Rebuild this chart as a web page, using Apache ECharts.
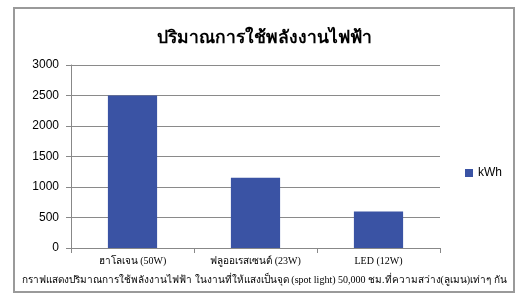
<!DOCTYPE html>
<html><head><meta charset="utf-8">
<script src="https://cdn.jsdelivr.net/npm/echarts@6/dist/echarts.min.js"></script>
<style>html,body{margin:0;padding:0;background:#fff}#c{width:529px;height:300px}</style>
</head><body><div id="c"></div>
<script>
const titleText = 'ปริมาณการใช้พลังงานไฟฟ้า';
const captionText = 'กราฟแสดงปริมาณการใช้พลังงานไฟฟ้า ในงานที่ให้แสงเป็นจุด (spot light) 50,000 ชม.ที่ความสว่าง(ลูเมน)เท่าๆ กัน';
const categories = ['ฮาโลเจน (50W)', 'ฟลูออเรสเซนต์ (23W)', 'LED (12W)'];
const seriesName = 'kWh';
const values = [2500, 1150, 600];
const yTicks = [0, 500, 1000, 1500, 2000, 2500, 3000];

const chart = echarts.init(document.getElementById('c'), null, {renderer: 'canvas'});
chart.setOption({
  animation: false,
  backgroundColor: '#fff',
  title: [
    {text: titleText, left: 'center', top: 24,
     textStyle: {fontFamily: 'serif', fontSize: 17.5, fontWeight: 'bold', color: '#000'}},
    {text: captionText, left: 'center', top: 270,
     textStyle: {fontFamily: 'serif', fontSize: 10, fontWeight: 'normal', color: '#000'}}
  ],
  legend: {
    data: [seriesName], left: 460, top: 162, orient: 'vertical',
    icon: 'rect', itemWidth: 8, itemHeight: 8, itemGap: 4,
    textStyle: {fontFamily: 'sans-serif', fontSize: 12, color: '#000'}
  },
  grid: {left: 71, right: 89, top: 65, bottom: 52, containLabel: false},
  xAxis: {
    type: 'category', data: categories,
    axisLine: {lineStyle: {color: '#888', width: 1}},
    axisTick: {show: true, length: 5, lineStyle: {color: '#888'}},
    axisLabel: {fontFamily: 'serif', fontSize: 10, color: '#000', margin: 8}
  },
  yAxis: {
    type: 'value', min: yTicks[0], max: yTicks[yTicks.length - 1], interval: 500,
    axisLine: {show: true, lineStyle: {color: '#888'}},
    axisTick: {show: true, length: 5, lineStyle: {color: '#888'}},
    splitLine: {lineStyle: {color: '#8a8a8a', width: 1}},
    axisLabel: {fontFamily: 'sans-serif', fontSize: 12, color: '#000', margin: 12,
                formatter: function (v) { return String(v); }}
  },
  series: [{
    name: seriesName, type: 'bar', data: values,
    barCategoryGap: '60%',
    itemStyle: {color: '#3a53a4'}
  }],
  graphic: [{
    type: 'rect', shape: {x: 14, y: 8, width: 500, height: 284},
    style: {fill: 'none', stroke: '#9a9a9a', lineWidth: 2}, silent: true
  }]
});
</script></body></html>
